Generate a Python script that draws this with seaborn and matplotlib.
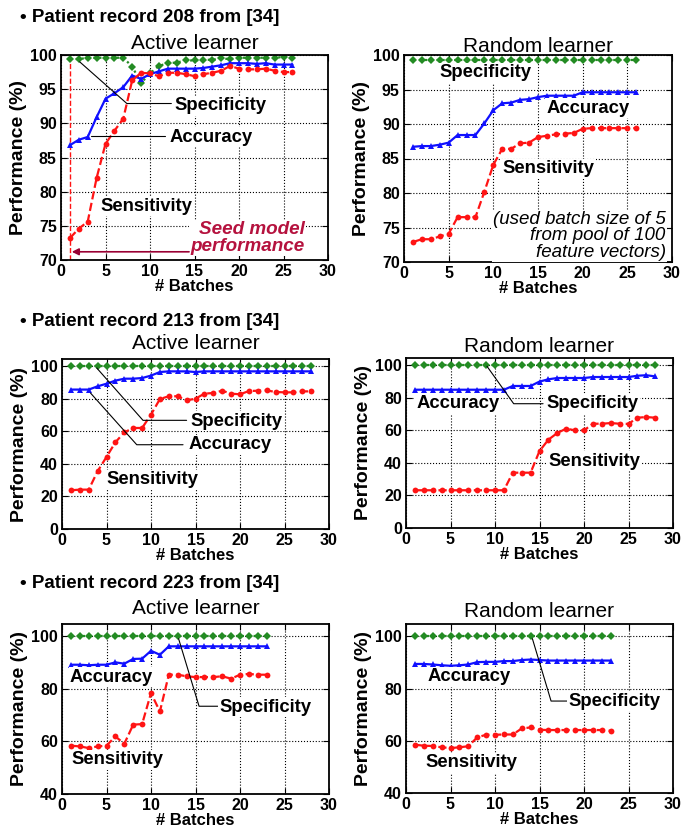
import numpy as np
import pandas as pd
import seaborn as sns
import matplotlib.pyplot as plt

# record 208 (26 batches)
x208 = list(range(1, 27))
act208_sens = [73.2, 74.6, 75.6, 82.0, 87.0, 88.9, 90.7, 96.3, 97.4, 97.3, 96.9, 97.4, 97.4,
               97.2, 96.9, 97.2, 97.4, 97.7, 98.4, 98.0, 97.9, 97.9, 98.0, 97.7, 97.5, 97.5]
act208_acc = [86.8, 87.6, 88.0, 90.9, 93.6, 94.4, 95.3, 97.0, 96.5, 97.2, 97.6, 98.0, 98.0,
              98.0, 98.0, 98.1, 98.3, 98.5, 98.8, 98.8, 98.8, 98.7, 98.8, 98.6, 98.6, 98.6]
act208_spec = [99.4, 99.4, 99.6, 99.6, 99.6, 99.6, 99.6, 98.3, 95.9, 97.3, 98.4, 98.8, 98.9,
               99.2, 99.2, 99.3, 99.3, 99.5, 99.4, 99.6, 99.6, 99.6, 99.6, 99.6, 99.7, 99.6]
rnd208_sens = [72.9, 73.3, 73.3, 73.7, 74.1, 76.5, 76.5, 76.5, 80.2, 84.1, 86.4, 86.4, 87.2,
               87.3, 88.1, 88.3, 88.5, 88.6, 88.7, 89.3, 89.4, 89.4, 89.4, 89.4, 89.4, 89.4]
rnd208_acc = [86.7, 86.8, 86.8, 87.0, 87.3, 88.4, 88.4, 88.4, 90.1, 92.0, 93.0, 93.1, 93.5,
              93.6, 93.9, 94.1, 94.1, 94.1, 94.1, 94.6, 94.6, 94.6, 94.6, 94.6, 94.6, 94.6]
rnd208_spec = [99.3] * 26

# record 213 (28 batches)
x213 = list(range(1, 29))
act213_sens = [23.8, 24.2, 24.2, 35.5, 44.3, 53.3, 59.4, 62.1, 62.1, 70.3, 79.9, 81.6, 81.6, 79.1,
               80.1, 83.2, 83.6, 85.0, 83.2, 82.8, 84.8, 85.0, 85.2, 84.2, 84.0, 84.0, 84.6, 84.6]
act213_acc = [85.7, 85.7, 85.7, 87.7, 89.3, 91.2, 92.4, 92.4, 92.8, 94.3, 96.5, 96.9, 96.9, 96.9,
              96.5, 96.9, 96.9, 96.9, 96.9, 96.9, 96.9, 96.9, 96.9, 96.9, 96.9, 96.9, 96.9, 96.9]
act213_spec = [100.0] * 28
rnd213_sens = [23.2, 23.2, 23.2, 23.2, 23.2, 23.2, 23.2, 23.2, 23.2, 23.2, 23.2, 34.0, 34.0, 34.0,
               47.3, 54.3, 58.4, 61.1, 60.0, 60.0, 64.1, 64.1, 64.5, 64.1, 64.0, 67.8, 68.2, 67.8]
rnd213_acc = [85.0, 85.0, 85.0, 85.0, 85.0, 85.0, 85.0, 85.0, 85.0, 85.0, 85.0, 87.3, 87.3, 87.3,
              90.0, 91.4, 92.2, 92.2, 92.2, 92.2, 92.8, 92.8, 92.8, 92.8, 92.8, 93.6, 93.9, 93.2]
rnd213_spec = [100.0] * 28

# record 223 (23 batches)
x223 = list(range(1, 24))
act223_sens = [58.4, 58.1, 57.5, 58.1, 58.4, 61.9, 59.1, 66.4, 66.6, 78.4, 71.4, 85.4,
               85.4, 84.8, 84.5, 84.5, 84.5, 84.8, 83.9, 85.4, 85.7, 85.4, 85.4]
act223_acc = [89.2, 89.2, 89.0, 89.2, 89.2, 90.1, 89.6, 91.4, 91.5, 94.5, 93.0, 96.2,
              96.2, 96.2, 96.2, 96.2, 96.2, 96.2, 96.2, 96.2, 96.2, 96.2, 96.2]
act223_spec = [100.0] * 23
rnd223_sens = [58.5, 58.1, 58.0, 57.5, 57.2, 57.5, 57.9, 61.3, 62.3, 62.3, 62.4, 62.4,
               64.7, 65.1, 64.2, 64.1, 64.1, 64.1, 64.1, 64.1, 64.1, 64.1, 63.8]
rnd223_acc = [89.4, 89.4, 89.2, 88.9, 88.7, 88.9, 89.2, 90.1, 90.2, 90.2, 90.5, 90.5,
              90.9, 91.1, 90.9, 90.7, 90.7, 90.7, 90.7, 90.7, 90.7, 90.7, 90.7]
rnd223_spec = [100.0] * 23

sns.set_style("ticks")
plt.rcParams['font.family'] = ['Liberation Sans', 'DejaVu Sans']
plt.rcParams['text.color'] = 'black'
plt.rcParams['axes.labelcolor'] = 'black'
plt.rcParams['xtick.color'] = 'black'
plt.rcParams['ytick.color'] = 'black'
plt.rcParams['axes.edgecolor'] = 'black'

GREEN = '#238b23'
BLUE = '#1010ff'
RED = '#ff1414'
W, H = 700, 827

fig = plt.figure(figsize=(7, 8.27), dpi=100)


def make_ax(l, t, r, b):
    return fig.add_axes([l / W, 1 - b / H, (r - l) / W, (b - t) / H])


def draw(ax, x, sens, acc, spec, ylim, yticks, title, pad):
    df = pd.DataFrame({'x': x, 'sens': sens, 'acc': acc, 'spec': spec})
    sns.lineplot(data=df, x='x', y='spec', ax=ax, color=GREEN, linestyle=':', lw=1.6,
                 marker='D', markersize=3.8, markeredgewidth=0)
    sns.lineplot(data=df, x='x', y='acc', ax=ax, color=BLUE, linestyle='-', lw=1.6,
                 marker='^', markersize=4.2, markeredgewidth=0)
    sns.lineplot(data=df, x='x', y='sens', ax=ax, color=RED, linestyle='--', lw=1.6,
                 marker='o', markersize=4.2, markeredgewidth=0)
    ax.set_xlim(0, 30)
    ax.set_ylim(*ylim)
    ax.set_xticks([0, 5, 10, 15, 20, 25, 30])
    ax.set_yticks(yticks)
    ax.grid(True, color='black', linestyle=':', lw=0.8)
    ax.tick_params(direction='in', length=4, top=True, right=True, labelsize=11.5, pad=3)
    for lab in ax.get_xticklabels() + ax.get_yticklabels():
        lab.set_fontweight('bold')
    for s in ax.spines.values():
        s.set_linewidth(1.3)
    ax.set_xlabel('# Batches', fontsize=12, fontweight='bold', labelpad=0)
    ax.set_ylabel('Performance (%)', fontsize=14, fontweight='bold', labelpad=2)
    ax.set_title(title, fontsize=15, pad=pad)


def label(ax, x, y, s, ha='left'):
    ax.text(x, y, s, fontsize=13.3, fontweight='bold', ha=ha, va='center',
            bbox=dict(facecolor='white', edgecolor='none', pad=1), zorder=5)


def leader(ax, xs, ys):
    ax.plot(xs, ys, color='black', lw=0.8, zorder=4)


# headings
for yy, rec in [(17, 208), (322, 213), (583, 223)]:
    fig.text(20 / W, 1 - yy / H, '\u2022 Patient record %d from [34]' % rec,
             fontsize=13.5, fontweight='bold', va='center')

# --- record 208
ax = make_ax(61, 55, 328, 260)
draw(ax, x208, act208_sens, act208_acc, act208_spec, (70, 100), [70, 75, 80, 85, 90, 95, 100],
     'Active learner', 4)
ax.axvline(1, color=RED, linestyle='--', lw=1.0, zorder=1)
leader(ax, [2.1, 7.4, 12.4], [99.0, 92.9, 92.9])
leader(ax, [3.4, 11.7], [88.1, 88.1])
label(ax, 12.8, 92.6, 'Specificity')
label(ax, 12.2, 88.0, 'Accuracy')
label(ax, 4.4, 77.9, 'Sensitivity')
ax.text(27.4, 73.2, 'Seed model\nperformance', fontsize=13.6, fontweight='bold', style='italic',
        color='#b5123e', ha='right', va='center', linespacing=1.0,
        bbox=dict(facecolor='white', edgecolor='none', pad=1), zorder=5)
ax.annotate('', xy=(0.9, 71.2), xytext=(14.7, 71.2),
            arrowprops=dict(arrowstyle='-|>', color='#990033', lw=1.2, mutation_scale=10), zorder=6)

ax = make_ax(404, 55, 672, 262)
draw(ax, x208, rnd208_sens, rnd208_acc, rnd208_spec, (70, 100), [70, 75, 80, 85, 90, 95, 100],
     'Random learner', 2)
label(ax, 4.0, 97.4, 'Specificity')
label(ax, 16.0, 92.3, 'Accuracy')
label(ax, 11.0, 83.5, 'Sensitivity')
ax.text(29.3, 73.8, '(used batch size of 5\nfrom pool of 100\nfeature vectors)', fontsize=13.5,
        style='italic', ha='right', va='center', linespacing=0.95,
        bbox=dict(facecolor='white', edgecolor='none', pad=1), zorder=5)

# --- record 213
ax = make_ax(62, 359, 329, 529)
draw(ax, x213, act213_sens, act213_acc, act213_spec, (0, 104.5), [0, 20, 40, 60, 80, 100],
     'Active learner', 7)
leader(ax, [3.9, 9.1, 14.0], [99.0, 66.8, 66.8])
leader(ax, [3.2, 8.4, 13.6], [83.6, 51.8, 51.8])
label(ax, 14.4, 66.2, 'Specificity')
label(ax, 14.2, 51.8, 'Accuracy')
label(ax, 5.0, 30.3, 'Sensitivity')

ax = make_ax(406, 358, 673, 528)
draw(ax, x213, rnd213_sens, rnd213_acc, rnd213_spec, (0, 104.5), [0, 20, 40, 60, 80, 100],
     'Random learner', 4)
leader(ax, [9.1, 12.1, 15.4], [99.4, 76.4, 76.4])
label(ax, 1.2, 76.4, 'Accuracy')
label(ax, 15.8, 76.4, 'Specificity')
label(ax, 16.0, 41.0, 'Sensitivity')

# --- record 223
ax = make_ax(62, 624, 329, 794)
draw(ax, x223, act223_sens, act223_acc, act223_spec, (40, 104.7), [40, 60, 80, 100],
     'Active learner', 7)
leader(ax, [13.1, 15.4, 17.5], [99.1, 73.4, 73.4])
label(ax, 0.9, 84.5, 'Accuracy')
label(ax, 17.7, 73.0, 'Specificity')
label(ax, 1.1, 53.0, 'Sensitivity')

ax = make_ax(406, 624, 673, 793)
draw(ax, x223, rnd223_sens, rnd223_acc, rnd223_spec, (40, 104.7), [40, 60, 80, 100],
     'Random learner', 5)
leader(ax, [14.2, 16.3, 18.1], [99.1, 75.2, 75.2])
label(ax, 2.4, 84.5, 'Accuracy')
label(ax, 18.3, 75.2, 'Specificity')
label(ax, 2.2, 51.5, 'Sensitivity')

fig.savefig('out.png', dpi=100)
